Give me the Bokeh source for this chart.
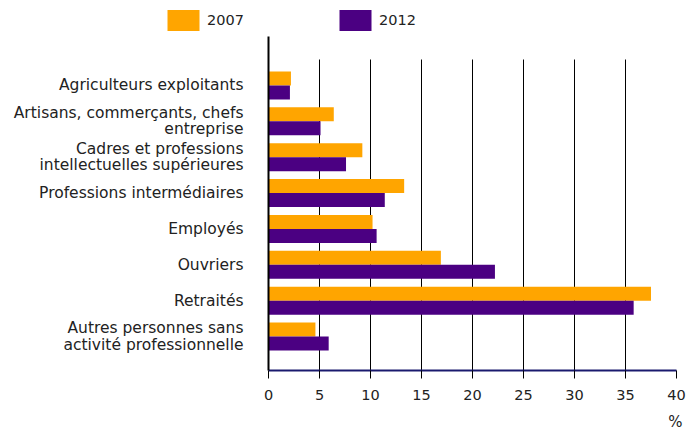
import numpy as np
from bokeh.plotting import figure
from bokeh.layouts import column
from bokeh.models import ColumnDataSource, Range1d, FixedTicker, Legend, LegendItem, Title
from bokeh.transform import dodge
from bokeh.embed import file_html
from bokeh.resources import INLINE

categories = [
    "Agriculteurs exploitants",
    "Artisans, commerçants, chefs\nentreprise",
    "Cadres et professions\nintellectuelles supérieures",
    "Professions intermédiaires",
    "Employés",
    "Ouvriers",
    "Retraités",
    "Autres personnes sans\nactivité professionnelle",
]
values_2007 = [2.2, 6.4, 9.2, 13.3, 10.2, 16.9, 37.5, 4.6]
values_2012 = [2.1, 5.1, 7.6, 11.4, 10.6, 22.2, 35.8, 5.9]
series_labels = ["2007", "2012"]
x_ticks = [0, 5, 10, 15, 20, 25, 30, 35, 40]
x_unit = "%"

ORANGE = "#FFA500"
PURPLE = "#4B0082"
FONT = "DejaVu Sans"
TXT = "#222222"

pos = list(range(len(categories) - 1, -1, -1))
src = ColumnDataSource(dict(pos=pos, v2007=values_2007, v2012=values_2012))

y_start, y_end = -0.948, 8.366
bar_h = 0.39

# ---------- legend strip ----------
pl = figure(width=690, height=36, x_range=Range1d(0, 690), y_range=Range1d(0, 36),
            x_axis_type=None, y_axis_type=None,
            output_backend="svg", toolbar_location=None)
pl.frame_align = False
pl.min_border = 0
pl.min_border_left = 0
pl.min_border_right = 0
pl.min_border_top = 0
pl.min_border_bottom = 0
pl.outline_line_color = None
pl.xgrid.visible = False
pl.ygrid.visible = False
# legend swatches share the bar data; renderers hidden in this strip
d1 = pl.hbar(y="pos", right="v2007", left=0, height=bar_h, source=src,
             fill_color=ORANGE, line_color=None, visible=False)
d2 = pl.hbar(y="pos", right="v2012", left=0, height=bar_h, source=src,
             fill_color=PURPLE, line_color=None, visible=False)
legend = Legend(
    items=[LegendItem(label=series_labels[0], renderers=[d1]),
           LegendItem(label=series_labels[1], renderers=[d2])],
    location=(163, 2.6), orientation="horizontal",
    glyph_width=40, glyph_height=26, label_standoff=4, label_width=128,
    spacing=0, padding=0, margin=0,
    border_line_color=None, background_fill_alpha=0,
    inactive_fill_alpha=0,
    label_text_font=FONT, label_text_font_size="14.5px", label_text_color=TXT,
)
pl.add_layout(legend, "center")

# ---------- main chart ----------
p = figure(
    width=690, height=394,
    frame_width=408, frame_height=334,
    x_range=Range1d(0, 40), y_range=Range1d(y_start, y_end),
    output_backend="svg", toolbar_location=None,
    min_border_left=268, min_border_right=14,
    min_border_top=0, min_border_bottom=60,
)
p.frame_align = False
p.outline_line_color = None

r1 = p.hbar(y=dodge("pos", bar_h / 2), right="v2007", left=0, height=bar_h,
            source=src, fill_color=ORANGE, line_color=None)
r2 = p.hbar(y=dodge("pos", -bar_h / 2), right="v2012", left=0, height=bar_h,
            source=src, fill_color=PURPLE, line_color=None)

p.ygrid.visible = False
p.xgrid.ticker = FixedTicker(ticks=x_ticks)
p.xgrid.grid_line_color = "black"
p.xgrid.grid_line_width = 1
p.xgrid.cross_bounds = (y_start, 7.725)

xa = p.xaxis[0]
xa.ticker = FixedTicker(ticks=x_ticks)
xa.axis_line_color = "#1a1a6e"
xa.axis_line_width = 2
xa.major_tick_line_color = "black"
xa.major_tick_out = 8
xa.major_tick_in = 0
xa.minor_tick_line_color = None
xa.major_label_standoff = 11
xa.major_label_text_font = FONT
xa.major_label_text_font_size = "14.5px"
xa.major_label_text_color = TXT

ya = p.yaxis[0]
ya.ticker = FixedTicker(ticks=pos)
ya.major_label_overrides = {k: c for k, c in zip(pos, categories)}
ya.axis_line_color = "black"
ya.axis_line_width = 2
ya.major_tick_out = 0
ya.major_tick_in = 0
ya.minor_tick_line_color = None
ya.major_label_standoff = 25
ya.major_label_text_font = FONT
ya.major_label_text_font_size = "15.5px"
ya.major_label_text_color = TXT
ya.major_label_text_line_height = 0.9

unit = Title(text=x_unit, align="right", offset=-6, standoff=16, text_font=FONT,
             text_font_size="15px", text_font_style="normal", text_color=TXT)
p.add_layout(unit, "below")

layout = column(pl, p, spacing=0)
open("out.html", "w").write(file_html(layout, INLINE))
